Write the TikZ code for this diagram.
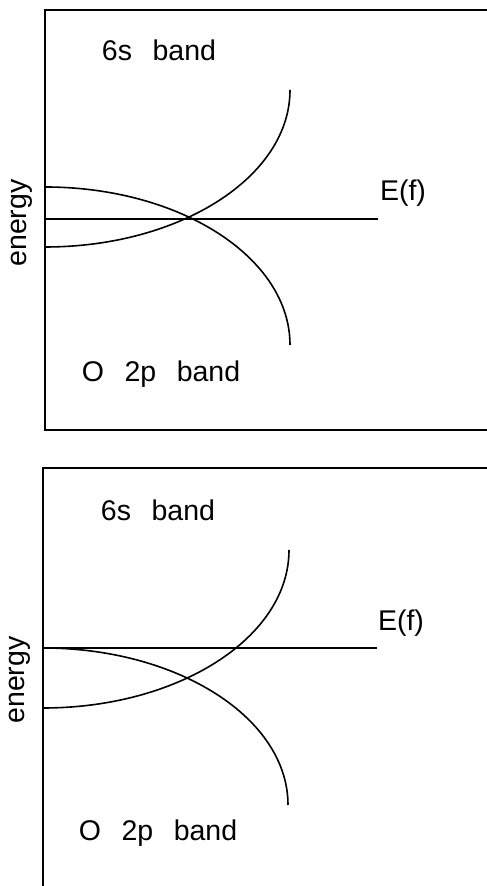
\documentclass[tikz,border=0pt]{standalone}
\usepackage{fontspec}
\setmainfont{Liberation Sans}
\newcommand{\bandgap}{\hspace{0.72em}}
\begin{document}
\begin{tikzpicture}[x=1pt, y=1pt, line width=1.6pt,
		lbl/.style={inner sep=0pt, font=\fontsize{28.5}{34}\selectfont}]
	\useasboundingbox (0,0) rectangle (487,886);

	% upper panel: E(f) at the crossing
	\draw (487,876) -- (45,876) -- (45,456) -- (487,456);
	\coordinate (fa) at (45,667);
	\coordinate (fb) at (378,667);
	\draw (fa) -- (fb);
	\draw (45,639) arc[start angle=270, end angle=360, x radius=245, y radius=157];
	\draw (45,699) arc[start angle=90, end angle=0, x radius=245, y radius=158];
	\node (sa) [lbl] at (159,836) {6s\bandgap band};
	\node (pa) [lbl] at (161,512) {O\bandgap 2p\bandgap band};
	\node (ea) [lbl] at (403,693) {E(f)};
	\node (ya) [lbl, rotate=90] at (22,663) {energy};

	% lower panel: E(f) at the top of the O 2p band
	\draw (487,418) -- (43,418) -- (43,0);
	\coordinate (fc) at (43,238);
	\coordinate (fd) at (377,238);
	\draw (fc) -- (fd);
	\draw (43,178) arc[start angle=270, end angle=360, x radius=246, y radius=158];
	\draw (43,238) arc[start angle=90, end angle=0, x radius=245, y radius=157];
	\node (sb) [lbl] at (158,376) {6s\bandgap band};
	\node (pb) [lbl] at (158,53) {O\bandgap 2p\bandgap band};
	\node (eb) [lbl] at (401,263) {E(f)};
	\node (yb) [lbl, rotate=90] at (20,206) {energy};
\end{tikzpicture}
\end{document}
